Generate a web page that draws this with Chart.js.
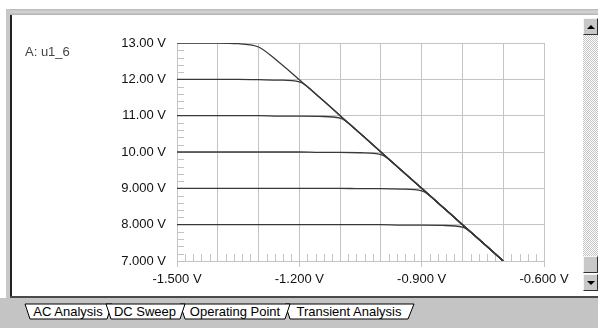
<!DOCTYPE html>
<html>
<head>
<meta charset="utf-8">
<script src="https://cdn.jsdelivr.net/npm/chart.js@4.4.1/dist/chart.umd.min.js"></script>
<style>
  html, body { margin: 0; padding: 0; background: #fff; }
  body { width: 598px; height: 328px; position: relative; overflow: hidden;
         font-family: "Liberation Sans", Arial, sans-serif; }
  .abs { position: absolute; }
  #topBar { left: 6px; top: 9px; width: 592px; height: 6px;
            background: linear-gradient(#b8b8b8, #d6d6d6 50%, #b0b0b0); }
  #leftBar { left: 6px; top: 9px; width: 4px; height: 289px; background: #c8c8c8; }
  #leftLine { left: 10px; top: 15px; width: 2px; height: 283px; background: #222; }
  #plotWrap { left: 12px; top: 16px; width: 570px; height: 280px; }
  #traceName { left: 25px; top: 44px; font-size: 13px; color: #444; }
  #scrollTrack { left: 583px; top: 35px; width: 15px; height: 221px;
                 background: repeating-conic-gradient(#fff 0 25%, #c4c4c4 0 50%) 0 0 / 2px 2px; }
  .sbBtn { left: 583px; width: 13px; background: #c8c8c8;
           border-top: 1px solid #f4f4f4; border-left: 1px solid #f4f4f4;
           border-bottom: 1px solid #303030; border-right: 1px solid #303030; }
  .arrowUp, .arrowDown { position: absolute; left: 3px; width: 0; height: 0;
           border-left: 4px solid transparent; border-right: 4px solid transparent; }
  .arrowUp { top: 6px; border-bottom: 4px solid #000; }
  .arrowDown { top: 6px; border-top: 4px solid #000; }
  #bottomLine { left: 10px; top: 296px; width: 588px; height: 2px; background: #4a4a4a; }
  #tabStrip { left: 0; top: 298px; width: 598px; height: 30px; background: #c4c4c4; }
</style>
</head>
<body>
<div id="topBar" class="abs"></div>
<div id="leftBar" class="abs"></div>
<div id="leftLine" class="abs"></div>
<div id="plotWrap" class="abs"><canvas id="sweepChart" width="570" height="280"></canvas></div>
<div id="traceName" class="abs">A: u1_6</div>
<div class="abs sbBtn" style="top:18px;height:15px;"><div class="arrowUp"></div></div>
<div id="scrollTrack" class="abs"></div>
<div class="abs sbBtn" style="top:256px;height:15px;"></div>
<div class="abs sbBtn" style="top:274px;height:15px;"><div class="arrowDown"></div></div>
<div id="bottomLine" class="abs"></div>
<div id="tabStrip" class="abs">
  <svg width="598" height="30" style="display:block">
    <g font-family="Liberation Sans, Arial, sans-serif" font-size="13" fill="#000">
      <polygon points="285,6 414,6 408,21 290,21" fill="#fff" stroke="#000" stroke-width="1"/>
      <text x="349" y="18" text-anchor="middle">Transient Analysis</text>
      <polygon points="180,6 290,6 285,21 185,21" fill="#fff" stroke="#000" stroke-width="1"/>
      <text x="235" y="18" text-anchor="middle">Operating Point</text>
      <polygon points="25,6 112,6 107,21 30,21" fill="#fff" stroke="#000" stroke-width="1"/>
      <text x="68" y="18" text-anchor="middle">AC Analysis</text>
      <polygon points="106,6 185,6 180,21 111,21" fill="#fff" stroke="#000" stroke-width="1"/>
      <text x="145" y="18" text-anchor="middle">DC Sweep</text>
    </g>
  </svg>
</div>

<script>
// Sweep source voltage (x) and output voltage of u1_6 for each parameter step
const sweepVolts = [-1.5, -1.45, -1.4, -1.35, -1.3, -1.25, -1.2, -1.15, -1.1, -1.05, -1.0, -0.95, -0.9, -0.85, -0.8, -0.75, -0.7];
const out13 = [13.00, 13.00, 13.00, 12.98, 12.89, 12.47, 11.99, 11.50, 11.00, 10.50, 10.00, 9.50, 9.00, 8.50, 8.00, 7.50, 7.00];
const out12 = [12.00, 12.00, 12.00, 12.00, 11.99, 11.98, 11.93, 11.50, 11.00, 10.50, 10.00, 9.50, 9.00, 8.50, 8.00, 7.50, 7.00];
const out11 = [11.00, 11.00, 11.00, 11.00, 11.00, 10.99, 10.99, 10.98, 10.93, 10.50, 10.00, 9.50, 9.00, 8.50, 8.00, 7.50, 7.00];
const out10 = [10.00, 10.00, 10.00, 10.00, 10.00, 10.00, 10.00, 9.99, 9.99, 9.98, 9.93, 9.50, 9.00, 8.50, 8.00, 7.50, 7.00];
const out9 = [9.00, 9.00, 9.00, 9.00, 9.00, 9.00, 9.00, 9.00, 9.00, 8.99, 8.99, 8.98, 8.93, 8.50, 8.00, 7.50, 7.00];
const out8 = [8.00, 8.00, 8.00, 8.00, 8.00, 8.00, 8.00, 8.00, 8.00, 8.00, 8.00, 7.99, 7.99, 7.98, 7.93, 7.50, 7.00];
const outputSeries = [out13, out12, out11, out10, out9, out8];

// Axis layout
const xMin = -1.5, xMax = -0.6, xGridStep = 0.1, xMinorStep = 0.02;
const yMin = 7, yMax = 13, yGridStep = 1, yMinorStep = 0.2;

const gridGray = '#c4c4c4';
const traceColor = '#383838';

Chart.defaults.font.family = '"Liberation Sans", Arial, sans-serif';
Chart.defaults.font.size = 13;
Chart.defaults.color = '#111';

// small inner ticks between the grid lines, like the scope display
const minorTicks = {
    id: 'minorTicks',
    beforeDatasetsDraw(chart) {
        const { ctx, chartArea, scales } = chart;
        ctx.save();
        ctx.strokeStyle = gridGray;
        ctx.lineWidth = 1;
        ctx.beginPath();
        const nx = Math.round((xMax - xMin) / xMinorStep);
        for (let i = 1; i < nx; i++) {
            if (i % 5 === 0) continue;
            const px = Math.round(scales.x.getPixelForValue(xMin + i * xMinorStep)) + 0.5;
            ctx.moveTo(px, chartArea.bottom);
            ctx.lineTo(px, chartArea.bottom - 7);
        }
        const ny = Math.round((yMax - yMin) / yMinorStep);
        for (let i = 1; i < ny; i++) {
            if (i % 5 === 0) continue;
            const py = Math.round(scales.y.getPixelForValue(yMin + i * yMinorStep)) + 0.5;
            ctx.moveTo(chartArea.left, py);
            ctx.lineTo(chartArea.left + 7, py);
        }
        ctx.stroke();
        ctx.restore();
    }
};

const datasets = outputSeries.map((vals) => ({
    data: sweepVolts.map((v, i) => ({ x: v, y: vals[i] })),
    borderColor: traceColor,
    borderWidth: 1.3,
    pointRadius: 0,
    fill: false,
    cubicInterpolationMode: 'monotone'
}));

new Chart(document.getElementById('sweepChart').getContext('2d'), {
    type: 'line',
    data: { datasets },
    plugins: [minorTicks],
    options: {
        responsive: false,
        animation: false,
        events: [],
        layout: { padding: { left: 0, right: 38, top: 27, bottom: 0 } },
        plugins: { legend: { display: false }, tooltip: { enabled: false } },
        scales: {
            x: {
                type: 'linear',
                min: xMin,
                max: xMax,
                afterFit: (scale) => { scale.height = 35; },
                border: { color: gridGray },
                grid: {
                    color: gridGray,
                    drawTicks: true,
                    tickLength: 6,
                    tickColor: (ctx) => (ctx.index % 3 === 0 ? gridGray : 'rgba(0,0,0,0)')
                },
                ticks: {
                    stepSize: xGridStep,
                    maxRotation: 0,
                    autoSkip: false,
                    padding: 5,
                    callback: (value, index) => (index % 3 === 0 ? value.toFixed(3) + ' V' : '')
                }
            },
            y: {
                min: yMin,
                max: yMax,
                afterFit: (scale) => { scale.width = 165; },
                border: { color: gridGray },
                grid: { color: gridGray, drawTicks: false },
                ticks: {
                    stepSize: yGridStep,
                    padding: 11,
                    callback: (value) => value.toPrecision(4) + ' V'
                }
            }
        }
    }
});
</script>
</body>
</html>
